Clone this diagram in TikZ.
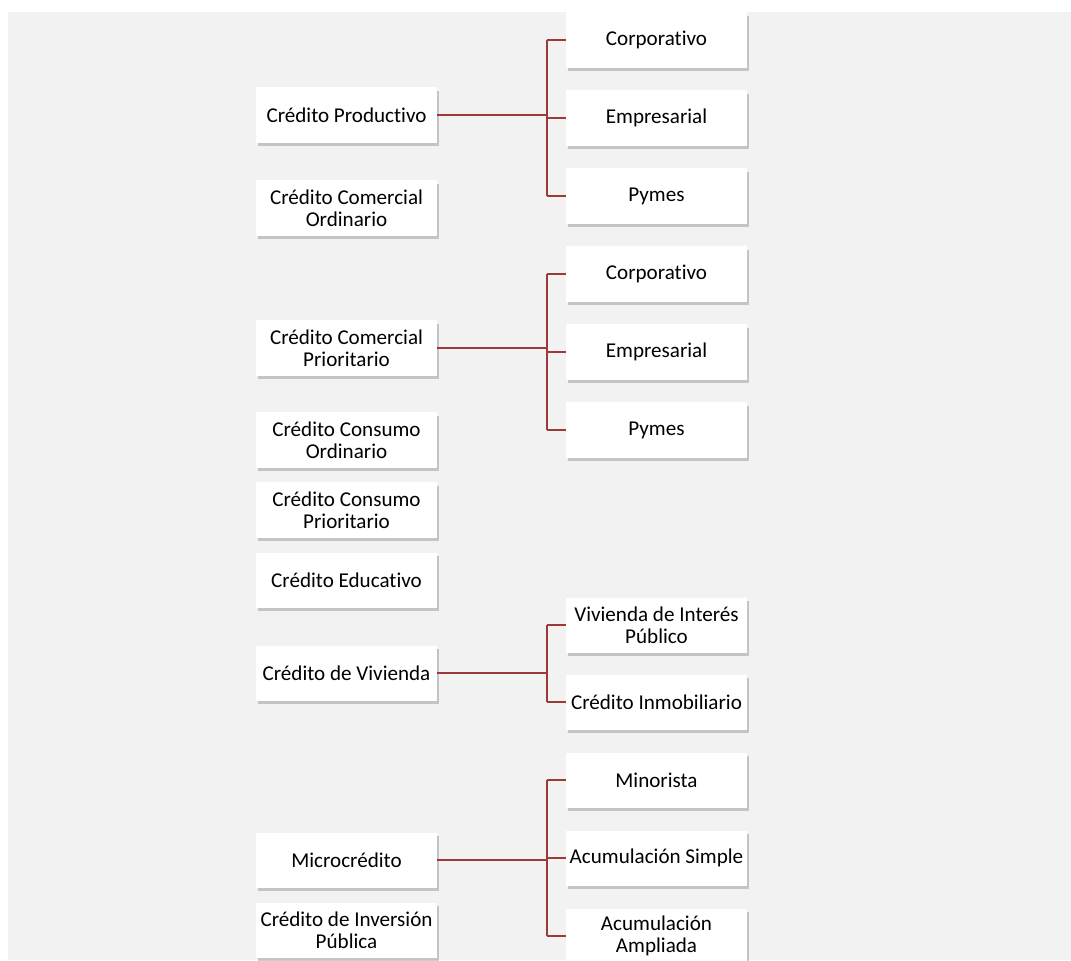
\documentclass[tikz,border=0pt]{standalone}
\usepackage{fontspec}
\setmainfont{Carlito}[Ligatures=NoCommon]
\usepackage{xcolor}
\usetikzlibrary{shadows}
\definecolor{linkred}{RGB}{155,58,56}
\definecolor{backgray}{RGB}{242,242,242}
\tikzset{
  box/.style={draw=none,fill=white,minimum width=4.525cm,minimum height=1.375cm,
    inner sep=1pt,align=center,font=\fontsize{15}{15.5}\selectfont,
    drop shadow={shadow xshift=1.6pt,shadow yshift=-2.8pt,opacity=.4}},
  link/.style={draw=linkred,line width=1.5pt}
}

\begin{document}
\begin{tikzpicture}[x=0.025cm,y=-0.025cm]
    \useasboundingbox (0,0) rectangle (1071,960);
    \fill[backgray] (8,12) rectangle (1071,960);

    % left column
    \node[box] (prod) at (346.5,115) {Crédito Productivo};
    \node[box] (comord) at (346.5,208) {Crédito Comercial\\Ordinario};
    \node[box] (comprio) at (346.5,348) {Crédito Comercial\\Prioritario};
    \node[box] (conord) at (346.5,440) {Crédito Consumo\\Ordinario};
    \node[box] (conprio) at (346.5,510) {Crédito Consumo\\Prioritario};
    \node[box] (educ) at (346.5,580) {Crédito Educativo};
    \node[box] (viv) at (346.5,673) {Crédito de Vivienda};
    \node[box] (micro) at (346.5,860) {Microcrédito};
    \node[box] (inv) at (346.5,930) {Crédito de Inversión\\Pública};

    % right column
    \node[box] (corpA) at (656.5,40) {Corporativo};
    \node[box] (empA) at (656.5,118) {Empresarial};
    \node[box] (pymA) at (656.5,196) {Pymes};
    \node[box] (corpB) at (656.5,274) {Corporativo};
    \node[box] (empB) at (656.5,352) {Empresarial};
    \node[box] (pymB) at (656.5,430) {Pymes};
    \node[box] (vip) at (656.5,625) {Vivienda de Interés\\Público};
    \node[box] (inmo) at (656.5,702) {Crédito Inmobiliario};
    \node[box] (mino) at (656.5,780) {Minorista};
    \node[box] (acsim) at (656.5,858) {Acumulación Simple};
    \node[box] (acamp) at (656.5,936) {Acumulación\\Ampliada};

    % connectors
    \coordinate (bus) at (547,0);
    \draw[link] (prod.east) -- (prod.east -| bus) (corpA.west -| bus) -- (pymA.west -| bus);
    \foreach \c in {corpA,empA,pymA} \draw[link] (\c.west -| bus) -- (\c.west);
    \draw[link] (comprio.east) -- (comprio.east -| bus) (corpB.west -| bus) -- (pymB.west -| bus);
    \foreach \c in {corpB,empB,pymB} \draw[link] (\c.west -| bus) -- (\c.west);
    \draw[link] (viv.east) -- (viv.east -| bus) (vip.west -| bus) -- (inmo.west -| bus);
    \foreach \c in {vip,inmo} \draw[link] (\c.west -| bus) -- (\c.west);
    \draw[link] (micro.east) -- (micro.east -| bus) (mino.west -| bus) -- (acamp.west -| bus);
    \foreach \c in {mino,acsim,acamp} \draw[link] (\c.west -| bus) -- (\c.west);
\end{tikzpicture}
\end{document}
